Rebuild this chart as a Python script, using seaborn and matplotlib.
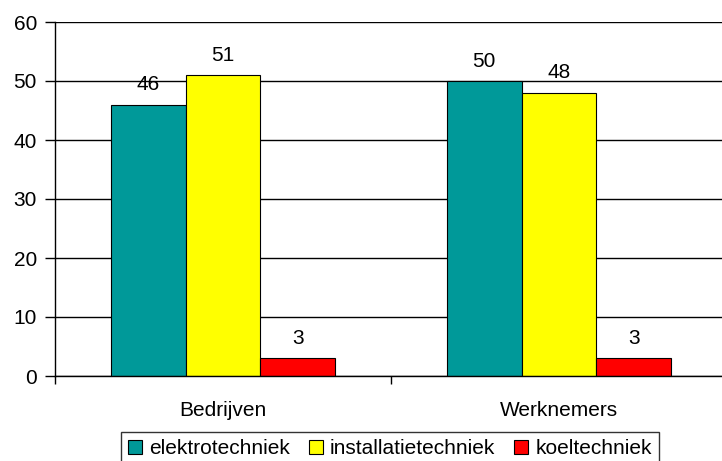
import pandas as pd
import seaborn as sns
import matplotlib.pyplot as plt
from matplotlib.patches import Patch

categories = ["Bedrijven", "Werknemers"]
series = ["elektrotechniek", "installatietechniek", "koeltechniek"]
elektro = [46, 50]
installatie = [51, 48]
koel = [3, 3]
colors = ["#009999", "#FFFF00", "#FF0000"]

df = pd.DataFrame({
    "categorie": categories * 3,
    "reeks": [s for s in series for _ in categories],
    "waarde": elektro + installatie + koel,
})

sns.set_theme(style="white")
plt.rcParams["font.family"] = ["Liberation Sans", "DejaVu Sans"]
plt.rcParams["text.color"] = "black"

W, H = 722, 461
fig = plt.figure(figsize=(W / 100, H / 100), dpi=100)
ax = fig.add_axes([55 / W, (H - 376) / H, 672 / W, (376 - 22) / H])

sns.barplot(
    data=df, x="categorie", y="waarde", hue="reeks",
    order=categories, hue_order=series, palette=colors,
    width=0.667, edgecolor="black", linewidth=0.8, ax=ax, legend=False,
    saturation=1,
)

for c in ax.containers:
    ax.bar_label(c, padding=7.5, fontsize=15, color="black")

ax.set_ylim(0, 60)
ax.set_xlim(-0.5, 1.5)
ax.set_yticks(range(0, 61, 10))
ax.yaxis.grid(True, color="black", linewidth=1)
ax.set_axisbelow(True)
ax.set_xlabel("")
ax.set_ylabel("")
for side in ["top", "right"]:
    ax.spines[side].set_visible(False)
for side in ["left", "bottom"]:
    ax.spines[side].set_color("black")
    ax.spines[side].set_linewidth(1)

ax.tick_params(axis="y", which="major", left=True, length=7, width=1,
               color="black", labelcolor="black", labelsize=15, pad=6)
ax.tick_params(axis="x", which="major", bottom=False, labelsize=15,
               labelcolor="black", pad=12)
ax.set_xticks([-0.5, 0.5, 1.5], minor=True)
ax.tick_params(axis="x", which="minor", bottom=True, length=6, width=1,
               color="black")

handles = [Patch(facecolor=col, edgecolor="black", linewidth=0.8, label=s)
           for s, col in zip(series, colors)]
leg = fig.legend(
    handles=handles, loc="upper center",
    bbox_to_anchor=(390 / W, (H - 432) / H),
    ncol=3, frameon=True, fancybox=False, fontsize=15,
    handlelength=0.67, handleheight=0.67, handletextpad=0.34,
    columnspacing=0.9, borderpad=0.35, borderaxespad=0,
)
leg.get_frame().set_edgecolor("black")
leg.get_frame().set_linewidth(1)

fig.savefig("out.png", dpi=100)
